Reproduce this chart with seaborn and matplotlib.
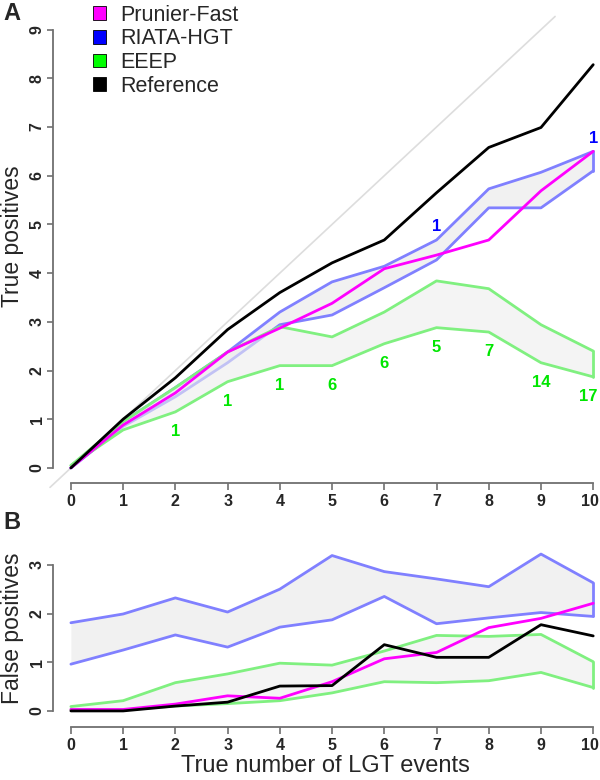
import matplotlib
matplotlib.use("Agg")
import matplotlib.pyplot as plt
import matplotlib.patches as mpatches
import matplotlib.transforms as mtransforms
import seaborn as sns
import numpy as np

# x values: true number of LGT events
events = list(range(11))

# Panel A: true positives
tp_reference = [0, 1.0, 1.85, 2.84, 3.6, 4.21, 4.68, 5.65, 6.58, 6.99, 8.28]
tp_prunier = [0, 0.88, 1.54, 2.38, 2.87, 3.38, 4.09, 4.37, 4.68, 5.69, 6.5]
tp_riata_hi = [0, 0.95, 1.65, 2.38, 3.2, 3.82, 4.14, 4.68, 5.73, 6.07, 6.5]
tp_riata_lo = [0, 0.85, 1.46, 2.16, 2.94, 3.14, 3.7, 4.27, 5.34, 5.34, 6.1]
tp_eeep_hi = [0.05, 0.95, 1.65, 2.38, 2.9, 2.69, 3.2, 3.84, 3.68, 2.94, 2.4]
tp_eeep_lo = [0.05, 0.78, 1.15, 1.77, 2.1, 2.1, 2.55, 2.88, 2.79, 2.16, 1.87]
eeep_counts = ["", "", "1", "1", "1", "6", "6", "5", "7", "14", "17"]
riata_counts = ["", "", "", "", "", "", "", "1", "", "", "1"]

# Panel B: false positives
fp_reference = [0, 0, 0.1, 0.18, 0.51, 0.52, 1.36, 1.1, 1.1, 1.77, 1.54]
fp_prunier = [0.03, 0.03, 0.14, 0.31, 0.26, 0.6, 1.07, 1.2, 1.71, 1.9, 2.21]
fp_riata_hi = [1.81, 1.99, 2.32, 2.03, 2.5, 3.19, 2.86, 2.71, 2.55, 3.22, 2.63]
fp_riata_lo = [0.96, 1.25, 1.56, 1.31, 1.72, 1.87, 2.35, 1.79, 1.91, 2.02, 1.94]
fp_eeep_hi = [0.09, 0.21, 0.58, 0.76, 0.98, 0.94, 1.23, 1.55, 1.53, 1.57, 1.01]
fp_eeep_lo = [0.03, 0.02, 0.1, 0.15, 0.21, 0.37, 0.6, 0.58, 0.62, 0.79, 0.48]

methods = ["Prunier-Fast", "RIATA-HGT", "EEEP", "Reference"]
legend_colors = ["#FF00FF", "#0000FF", "#00FF00", "#000000"]

sns.set_style("ticks")
plt.rcParams["font.family"] = ["Liberation Sans", "DejaVu Sans"]

fig = plt.figure(figsize=(6.0, 7.8), dpi=100)
ax_a = fig.add_axes([50 / 600, 297 / 780, 550 / 600, 468 / 780])
ax_b = fig.add_axes([50 / 600, 53 / 780, 550 / 600, 189 / 780])

blue_line = "#8080FF"
green_line = "#80F080"
band = "#EEEEEE"


def draw_panel(ax, riata_hi, riata_lo, eeep_hi, eeep_lo, prunier, reference):
    # shaded bands
    ax.fill_between(events, riata_lo, riata_hi, color=band, alpha=0.8, lw=0, zorder=1)
    sns.lineplot(x=events, y=riata_hi, ax=ax, color=blue_line, lw=2, zorder=2)
    sns.lineplot(x=events, y=riata_lo, ax=ax, color=blue_line, lw=2, zorder=2)
    ax.plot([events[-1]] * 2, [riata_lo[-1], riata_hi[-1]], color=blue_line, lw=2, zorder=2)
    ax.fill_between(events, eeep_lo, eeep_hi, color=band, alpha=0.6, lw=0, zorder=3)
    sns.lineplot(x=events, y=eeep_hi, ax=ax, color=green_line, lw=2, zorder=4)
    sns.lineplot(x=events, y=eeep_lo, ax=ax, color=green_line, lw=2, zorder=4)
    ax.plot([events[-1]] * 2, [eeep_lo[-1], eeep_hi[-1]], color=green_line, lw=2, zorder=4)
    sns.lineplot(x=events, y=prunier, ax=ax, color="#FF00FF", lw=2, zorder=5)
    sns.lineplot(x=events, y=reference, ax=ax, color="black", lw=2, zorder=6)


def style_axes(ax, ymax_tick, ylim):
    ax.set_xlim(-0.4, 10.13)
    ax.set_ylim(*ylim)
    for side in ["top", "right"]:
        ax.spines[side].set_visible(False)
    for side in ["left", "bottom"]:
        ax.spines[side].set_color("#707070")
        ax.spines[side].set_linewidth(1.3)
    ax.spines["left"].set_bounds(0, ymax_tick)
    ax.spines["bottom"].set_bounds(0, 10)
    ax.spines["left"].set_position(("data", -0.34))
    ax.set_xticks(events)
    ax.set_yticks(range(ymax_tick + 1))
    ax.tick_params(direction="out", width=1.2, color="#707070", labelsize=11.5)
    ax.tick_params(axis="x", length=5, pad=3)
    ax.tick_params(axis="y", length=4.5, pad=1.5)
    for lab in ax.get_xticklabels() + ax.get_yticklabels():
        lab.set_fontweight("bold")
    for lab in ax.get_yticklabels():
        lab.set_rotation(90)
        lab.set_va("center")
    last = ax.get_xticklabels()[-1]
    last.set_transform(last.get_transform() +
                       mtransforms.ScaledTranslation(-3 / 100, 0, fig.dpi_scale_trans))


# Panel A
ax_a.plot([-0.4, 9.27], [-0.4, 9.27], color="#DDDDDD", lw=1.2, zorder=0, clip_on=False)
draw_panel(ax_a, tp_riata_hi, tp_riata_lo, tp_eeep_hi, tp_eeep_lo, tp_prunier, tp_reference)
style_axes(ax_a, 9, (-0.31, 9.3))
ax_a.set_ylabel("True positives", fontsize=16.5, va="center")
ax_a.yaxis.set_label_coords(-0.069, 0.528)
ax_a.set_xlabel("")

for x, lo, lab in zip(events, tp_eeep_lo, eeep_counts):
    if lab:
        ax_a.text(x - (0.1 if x == 10 else 0), lo - 0.4, lab, color="#00E600",
                  fontsize=12, fontweight="bold", ha="center", va="center", zorder=7)
for x, hi, lab in zip(events, tp_riata_hi, riata_counts):
    if lab:
        ax_a.text(x, hi + 0.27, lab, color="#0000FF", fontsize=12,
                  fontweight="bold", ha="center", va="center", zorder=7)

handles = [mpatches.Patch(facecolor=c, edgecolor="black", lw=0.6) for c in legend_colors]
leg = ax_a.legend(handles, methods, loc="upper left", bbox_to_anchor=(0.062, 1.04),
                  frameon=False, fontsize=15.5, handlelength=0.6, handleheight=0.6,
                  handletextpad=0.7, labelspacing=0.12, borderaxespad=0)

# Panel B
draw_panel(ax_b, fp_riata_hi, fp_riata_lo, fp_eeep_hi, fp_eeep_lo, fp_prunier, fp_reference)
style_axes(ax_b, 3, (-0.33, 3.55))
ax_b.set_ylabel("False positives", fontsize=16.5, va="center")
ax_b.yaxis.set_label_coords(-0.069, 0.52)
ax_b.set_xlabel("True number of LGT events", fontsize=17, labelpad=1)

fig.text(0.005, 0.998, "A", fontsize=17, fontweight="bold", va="top", ha="left")
fig.text(0.005, 0.345, "B", fontsize=17, fontweight="bold", va="top", ha="left")

fig.savefig("out.png", dpi=100)
